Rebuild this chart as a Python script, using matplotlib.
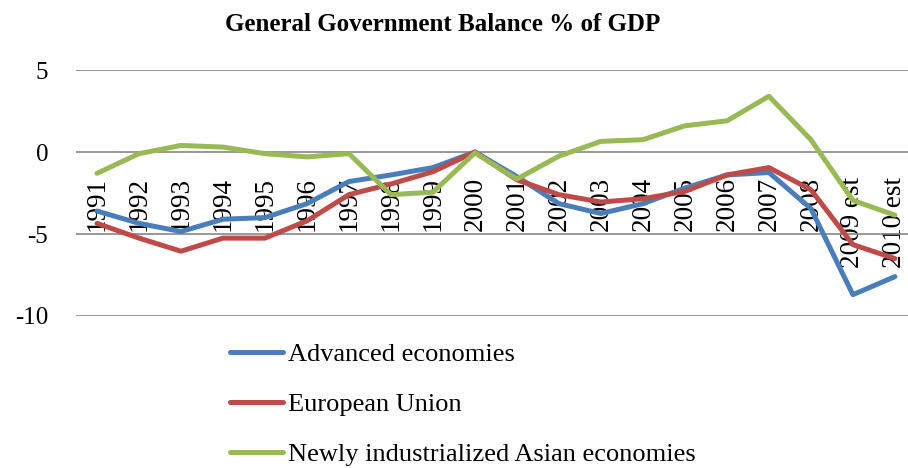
import matplotlib.pyplot as plt

years = ['1991', '1992', '1993', '1994', '1995', '1996', '1997', '1998', '1999', '2000',
         '2001', '2002', '2003', '2004', '2005', '2006', '2007', '2008', '2009 est', '2010 est']

advanced = [-3.6, -4.35, -4.85, -4.1, -4.0, -3.15, -1.8, -1.4, -0.95, 0.0,
            -1.5, -3.15, -3.75, -3.15, -2.2, -1.4, -1.25, -3.45, -8.7, -7.6]
eu = [-4.35, -5.25, -6.05, -5.25, -5.25, -4.2, -2.6, -1.95, -1.2, 0.0,
      -1.7, -2.6, -3.05, -2.85, -2.4, -1.4, -0.95, -2.3, -5.65, -6.5]
nie_asia = [-1.3, -0.1, 0.4, 0.3, -0.1, -0.3, -0.1, -2.6, -2.45, -0.05,
            -1.65, -0.25, 0.65, 0.75, 1.6, 1.9, 3.4, 0.75, -2.95, -3.85]

series = [('Advanced economies', advanced, '#4a7ebb'),
          ('European Union', eu, '#be4b48'),
          ('Newly industrialized Asian economies', nie_asia, '#98b954')]

plt.rcParams['font.family'] = ['Liberation Serif', 'DejaVu Serif']

fig = plt.figure(figsize=(9.08, 4.68), dpi=100)
ax = fig.add_axes([0.0837, 0.3248, 0.925, 0.5256])

x = list(range(len(years)))
lines = []
for name, vals, col in series:
    ln, = ax.plot(x, vals, color=col, lw=3.6, solid_capstyle='round',
                  solid_joinstyle='round', label=name, zorder=3)
    lines.append(ln)

ax.set_xlim(-0.5, len(years) - 0.5)
ax.set_ylim(-10, 5)
ax.set_yticks([-10, -5, 0, 5])
ax.set_yticklabels(['-10', '-5', '0', '5'])
ax.yaxis.grid(True, color='#868686', lw=1.2)
ax.set_axisbelow(True)

# category labels hang from the zero line
ax.spines['bottom'].set_position(('data', 0))
for s in ['top', 'right', 'left', 'bottom']:
    ax.spines[s].set_visible(False)
ax.set_xticks(x)
ax.set_xticklabels(years, rotation=90, fontsize=19.5)
ax.tick_params(axis='x', length=0, pad=18)
ax.tick_params(axis='y', length=0, pad=20, labelsize=18)

fig.text(0.488, 0.948, 'General Government Balance % of GDP', ha='center', va='center',
         fontsize=18, fontweight='bold')

fig.legend(handles=lines, loc='upper left', bbox_to_anchor=(0.253, 0.268),
           frameon=False, fontsize=19, handlelength=2.0, handletextpad=0.2,
           labelspacing=1.0, borderaxespad=0, borderpad=0)

fig.savefig('out.png', dpi=100)
